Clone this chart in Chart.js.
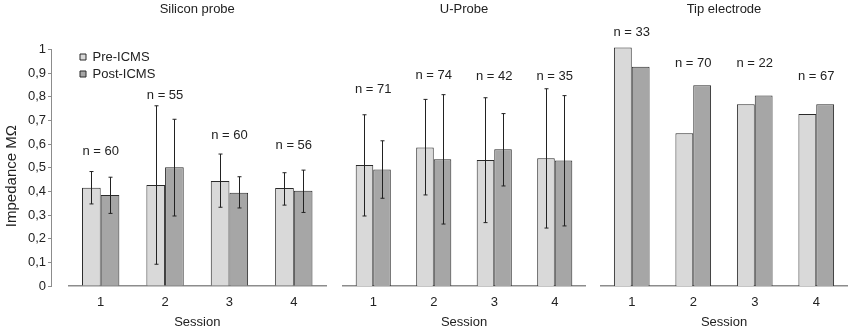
<!DOCTYPE html>
<html>
<head>
<meta charset="utf-8">
<script src="https://cdn.jsdelivr.net/npm/chart.js@4.4.0/dist/chart.umd.min.js"></script>
<style>
  body { margin: 0; background: #fff; }
  #wrap { position: relative; width: 851px; height: 330px; }
  canvas { position: absolute; left: 0; top: 0; }
</style>
</head>
<body>
<div id="wrap">
  <canvas id="silicon" width="851" height="330"></canvas>
  <canvas id="uprobe" width="851" height="330"></canvas>
  <canvas id="tip" width="851" height="330"></canvas>
</div>
<script>
const sessions = ['1', '2', '3', '4'];
const yTicks = [0, 0.1, 0.2, 0.3, 0.4, 0.5, 0.6, 0.7, 0.8, 0.9, 1];

// Silicon probe
const siPre = [0.415, 0.427, 0.444, 0.414];
const siPost = [0.385, 0.502, 0.394, 0.403];
const siPreLow = [0.347, 0.092, 0.333, 0.342];
const siPreHigh = [0.484, 0.762, 0.558, 0.479];
const siPostLow = [0.307, 0.296, 0.330, 0.311];
const siPostHigh = [0.460, 0.705, 0.462, 0.490];
const siN = [60, 55, 60, 56];
const siNY = [0.57, 0.807, 0.638, 0.596];

// U-Probe
const uPre = [0.512, 0.586, 0.533, 0.540];
const uPost = [0.493, 0.536, 0.578, 0.531];
const uPreLow = [0.296, 0.385, 0.268, 0.245];
const uPreHigh = [0.724, 0.789, 0.796, 0.834];
const uPostLow = [0.371, 0.262, 0.423, 0.254];
const uPostHigh = [0.614, 0.809, 0.729, 0.805];
const uN = [71, 74, 42, 35];
const uNY = [0.832, 0.892, 0.888, 0.885];

// Tip electrode (no error bars)
const tipPre = [1.008, 0.646, 0.768, 0.727];
const tipPost = [0.927, 0.849, 0.806, 0.768];
const tipN = [33, 70, 22, 67];
const tipNY = [1.073, 0.941, 0.941, 0.888];

const ink = '#222';
Chart.defaults.font.family = "'Liberation Sans', Arial, sans-serif";
Chart.defaults.font.size = 13;
Chart.defaults.color = ink;

// error bars and "n = .." labels
const extras = {
    id: 'extras',
    afterDatasetsDraw(chart, args, opts) {
        const ctx = chart.ctx;
        const y = chart.scales.y;
        ctx.save();
        ctx.strokeStyle = ink;
        ctx.lineWidth = 1;
        (opts.errors || []).forEach((err, d) => {
            chart.getDatasetMeta(d).data.forEach((bar, i) => {
                const x = Math.round(bar.x) + 0.5;
                const top = y.getPixelForValue(err.high[i]);
                const bot = y.getPixelForValue(err.low[i]);
                ctx.beginPath();
                ctx.moveTo(x, top); ctx.lineTo(x, bot);
                ctx.moveTo(x - 2, top); ctx.lineTo(x + 2, top);
                ctx.moveTo(x - 2, bot); ctx.lineTo(x + 2, bot);
                ctx.stroke();
            });
        });
        ctx.fillStyle = ink;
        ctx.font = "13px 'Liberation Sans', Arial, sans-serif";
        ctx.textAlign = 'center';
        ctx.textBaseline = 'middle';
        (opts.n || []).forEach((n, i) => {
            ctx.fillText('n = ' + n, chart.scales.x.getPixelForValue(i), y.getPixelForValue(opts.nY[i]));
        });
        ctx.restore();
    },
    afterLayout(chart) {
        // y axis sits a little left of the baseline, legend inside the plot
        if (chart.options.scales.y.display) {
            chart.scales.y.right -= 17.5;
        }
        if (chart.legend && chart.options.plugins.legend.display) {
            chart.legend.left = chart.chartArea.left + 7.5;
            chart.legend.top = chart.chartArea.top - 3;
        }
    }
};

function makePanel(id, title, pre, post, n, nY, errors, left, right, showAxis) {
    return new Chart(document.getElementById(id), {
        type: 'bar',
        data: {
            labels: sessions,
            datasets: [{
                label: 'Pre-ICMS',
                data: pre,
                backgroundColor: '#d9d9d9',
                borderColor: '#2a2a2a',
                borderWidth: 1,
                clip: false
            }, {
                label: 'Post-ICMS',
                data: post,
                backgroundColor: '#a6a6a6',
                borderColor: '#2a2a2a',
                borderWidth: 1,
                clip: false
            }]
        },
        options: {
            responsive: false,
            animation: false,
            layout: { padding: { left: left, right: 851 - right, top: 0, bottom: 0 } },
            datasets: { bar: { categoryPercentage: 0.58, barPercentage: 1 } },
            scales: {
                x: {
                    grid: { display: false, drawTicks: false },
                    border: { color: '#8c8c8c', width: 1.5 },
                    ticks: { padding: 9, font: { size: 13 } },
                    title: { display: true, text: 'Session', font: { size: 13 }, padding: { top: 0, bottom: 0 } },
                    afterFit(s) { s.height = 44; }
                },
                y: {
                    display: showAxis,
                    min: 0,
                    max: 1,
                    afterBuildTicks(s) { s.ticks = yTicks.map(v => ({ value: v })); },
                    grid: { drawOnChartArea: false, drawTicks: true, tickLength: 3, color: '#8c8c8c' },
                    border: { color: '#8c8c8c', width: 1 },
                    ticks: {
                        padding: 2,
                        font: { size: 13 },
                        callback: v => (v === 0 || v === 1) ? String(v) : v.toFixed(1).replace('.', ',')
                    },
                    // trailing spaces push the rotated label down a little
                    title: { display: true, text: 'Impedance MΩ    ', font: { size: 15 }, padding: { top: 3, bottom: 0 } },
                    afterFit(s) { s.width = left > 0 ? 0 : 68.5; }
                }
            },
            plugins: {
                title: {
                    display: true,
                    text: title,
                    fullSize: false,
                    font: { size: 13, weight: 'normal' },
                    color: ink,
                    padding: { top: 2, bottom: 31.9 }
                },
                legend: {
                    display: showAxis,
                    position: 'chartArea',
                    align: 'start',
                    labels: { boxWidth: 6, boxHeight: 6, padding: 4, font: { size: 13 }, color: ink }
                },
                tooltip: { enabled: false },
                extras: { errors: errors, n: n, nY: nY }
            }
        },
        plugins: [extras]
    });
}

makePanel('silicon', 'Silicon probe', siPre, siPost, siN, siNY,
    [{ low: siPreLow, high: siPreHigh }, { low: siPostLow, high: siPostHigh }], 0, 326, true);
makePanel('uprobe', 'U-Probe', uPre, uPost, uN, uNY,
    [{ low: uPreLow, high: uPreHigh }, { low: uPostLow, high: uPostHigh }], 343, 585, false);
makePanel('tip', 'Tip electrode', tipPre, tipPost, tipN, tipNY, [], 601, 847, false);
</script>
</body>
</html>
